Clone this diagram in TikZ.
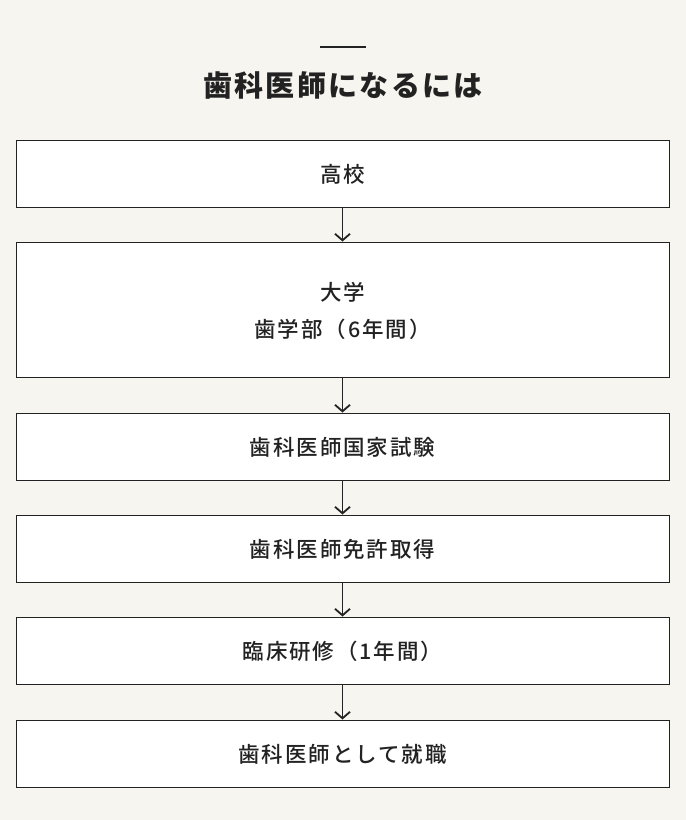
\documentclass[tikz,border=0pt]{standalone}
\usepackage{fontspec}
\newfontfamily\jpfont[LetterSpace=9, BoldFont={Noto Sans CJK JP Medium}]{Noto Sans CJK JP}
\newfontfamily\jptitle[LetterSpace=8]{Noto Sans CJK JP}
\usetikzlibrary{arrows.meta,positioning}
\definecolor{paper}{HTML}{F7F5EF}
\definecolor{ink}{HTML}{222222}

\tikzset{
    stagebox/.style = {rectangle,
        draw = ink,
        line width = 1pt,
        fill = white,
        text = ink,
        text depth = 0pt,
        font = \jpfont\bfseries\fontsize{21.5}{37}\selectfont,
        align = center,
        minimum width = 653pt,
        minimum height = 67pt},
    flow/.style = {draw = ink, line width = 1.8pt,
        -{Straight Barb[length=6.5pt,width=15pt,line width=1.8pt]}}
}

\begin{document}
\begin{tikzpicture}[x=1pt,y=1pt,node distance=34pt]
\fill[paper] (0,0) rectangle (686,-820);
\useasboundingbox (0,0) rectangle (686,-820);

% title
\coordinate (ruleL) at (320,-47);
\coordinate (ruleR) at (366,-47);
\draw[ink, line width=1.5pt] (ruleL) -- (ruleR);
\node[text=ink, font=\jptitle\bfseries\fontsize{29}{34}\selectfont]
    (title) at (343,-85) {歯科医師になるには};

% stages
\node[stagebox] (school) at (342.5,-173.5) {高校};
\node[stagebox, minimum height=135pt, below=of school] (univ) {大学\\歯学部（6年間）};
\node[stagebox, below=35pt of univ] (exam) {歯科医師国家試験};
\node[stagebox, below=of exam] (license) {歯科医師免許取得};
\node[stagebox, below=of license] (training) {臨床研修（1年間）};
\node[stagebox, below=35pt of training] (job) {歯科医師として就職};

\draw[flow] (school) -- (univ);
\draw[flow] (univ) -- (exam);
\draw[flow] (exam) -- (license);
\draw[flow] (license) -- (training);
\draw[flow] (training) -- (job);

\end{tikzpicture}
\end{document}
